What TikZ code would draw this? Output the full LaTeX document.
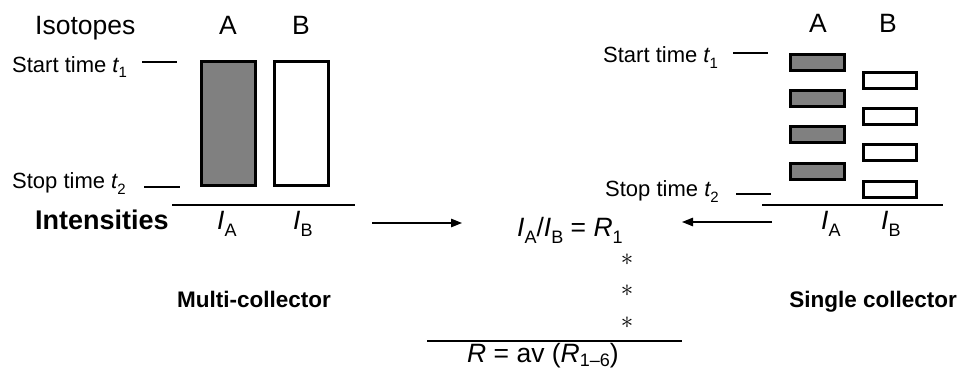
\documentclass[tikz,border=0pt]{standalone}
\usepackage{fontspec}
\setmainfont{Liberation Sans}
\usetikzlibrary{arrows.meta}
\definecolor{barfill}{RGB}{128,128,128}
\newcommand{\lowsub}[1]{\raisebox{-0.24em}{\scalebox{0.68}{#1}}}
\begin{document}
\begin{tikzpicture}[x=1pt,y=-1pt,
  big/.style={font=\fontsize{26.5}{30}\selectfont, inner sep=0pt},
  small/.style={font=\fontsize{22}{26}\selectfont, inner sep=0pt},
  boldbig/.style={font=\fontsize{27}{30}\selectfont\bfseries, inner sep=0pt},
  lab/.style={font=\fontsize{22.5}{26}\selectfont\bfseries, inner sep=0pt},
  star/.style={font=\fontsize{30}{30}\selectfont, inner sep=0pt},
  tickline/.style={line width=2.8pt},
  rule/.style={line width=1.2pt},
  conn/.style={line width=1.2pt, -{Triangle[length=11pt,width=8.5pt]}},
  graybar/.style={draw, fill=barfill, line width=3pt, inner sep=0pt},
  whitebar/.style={draw, fill=white, line width=3pt, inner sep=0pt},
  tallbar/.style={minimum width=54pt, minimum height=124pt},
  flatbar/.style={minimum width=53.5pt, minimum height=16pt}]
\useasboundingbox (0,0) rectangle (958,371);

% ---------- left panel: multi-collector ----------
\node[big, anchor=base west] (iso) at (35,35) {Isotopes};
\node[big, anchor=base] (lA) at (228,35) {A};
\node[big, anchor=base] (lB) at (301,35) {B};

\node[small, anchor=base west] (lstart) at (12,72.5) {Start time {\itshape t}\lowsub{1}};
\node[small, anchor=base west] (lstop) at (12,189) {Stop time {\itshape t}\lowsub{2}};
\coordinate (lst1) at (142,62); \coordinate (lst2) at (177,62);
\coordinate (lsp1) at (144,187); \coordinate (lsp2) at (180,187);
\draw[tickline] (lst1) -- (lst2);
\draw[tickline] (lsp1) -- (lsp2);

\node[graybar, tallbar] (barA) at (228.5,123.5) {};
\node[whitebar, tallbar] (barB) at (301,123.5) {};

\coordinate (lr1) at (172,205); \coordinate (lr2) at (355,205);
\draw[rule] (lr1) -- (lr2);

\node[boldbig, anchor=base west] (int) at (35,230) {Intensities};
\node[big, anchor=base west] (lIA) at (217,230) {{\itshape I}\lowsub{A}};
\node[big, anchor=base west] (lIB) at (293,230) {{\itshape I}\lowsub{B}};

\node[lab, anchor=base west] (multi) at (177,307) {Multi-collector};

% ---------- right panel: single collector ----------
\node[big, anchor=base] (rA) at (818,33) {A};
\node[big, anchor=base] (rB) at (888,33) {B};

\node[small, anchor=base west] (rstart) at (603,63) {Start time {\itshape t}\lowsub{1}};
\node[small, anchor=base west] (rstop) at (605,197) {Stop time {\itshape t}\lowsub{2}};
\coordinate (rst1) at (733,53); \coordinate (rst2) at (768,53);
\coordinate (rsp1) at (736,194); \coordinate (rsp2) at (771,194);
\draw[tickline] (rst1) -- (rst2);
\draw[tickline] (rsp1) -- (rsp2);

\node[graybar, flatbar] (ga1) at (817.5,62.5) {};
\node[graybar, flatbar] (ga2) at (817.5,98.5) {};
\node[graybar, flatbar] (ga3) at (817.5,135) {};
\node[graybar, flatbar] (ga4) at (817.5,172) {};
\node[whitebar, flatbar] (wb1) at (890,81) {};
\node[whitebar, flatbar] (wb2) at (890,116.5) {};
\node[whitebar, flatbar] (wb3) at (890,152.5) {};
\node[whitebar, flatbar] (wb4) at (890,189.5) {};

\coordinate (rr1) at (762,205); \coordinate (rr2) at (943,205);
\draw[rule] (rr1) -- (rr2);

\node[big, anchor=base west] (rIA) at (821,230) {{\itshape I}\lowsub{A}};
\node[big, anchor=base west] (rIB) at (881,230) {{\itshape I}\lowsub{B}};

\node[lab, anchor=base east] (single) at (957,307) {Single collector};

% ---------- centre: ratio ----------
\node[big, anchor=base west] (ratio) at (517,237) {{\itshape I}\lowsub{A}/{\itshape I}\lowsub{B} = {\itshape R}\lowsub{1}};

\coordinate (la1) at (372,223); \coordinate (la2) at (462,223);
\draw[conn] (la1) -- (la2);
\coordinate (ra1) at (772,222); \coordinate (ra2) at (682,222);
\draw[conn] (ra1) -- (ra2);

\node[star] (s1) at (627,260) {$\ast$};
\node[star] (s2) at (627,291) {$\ast$};
\node[star] (s3) at (627,323) {$\ast$};

\coordinate (br1) at (427,341); \coordinate (br2) at (682,341);
\draw[rule] (br1) -- (br2);

\node[big, anchor=base west] (avg) at (467,362) {{\itshape R} = av ({\itshape R}\raisebox{-0.18em}{\scalebox{0.68}{1\textendash 6}})};
\end{tikzpicture}
\end{document}
